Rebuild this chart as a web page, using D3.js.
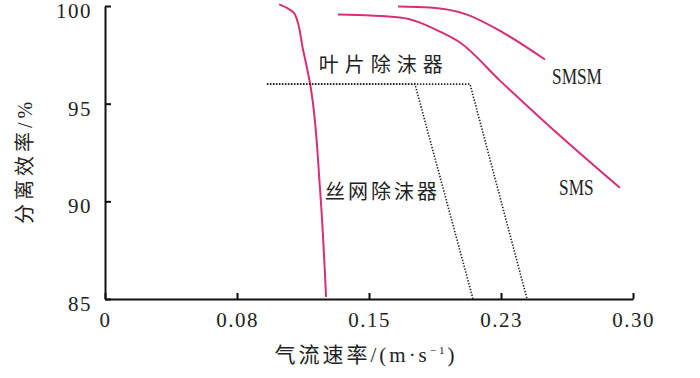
<!DOCTYPE html>
<html>
<head>
<meta charset="utf-8">
<script src="https://cdn.jsdelivr.net/npm/d3@7"></script>
<style>
  body { margin: 0; background: #fff; }
  svg { display: block; }
  text { font-family: "Liberation Serif", "Noto Sans CJK SC", serif; fill: #222; }
</style>
</head>
<body>
<svg width="700" height="378"></svg>
<script>
// x ticks sit at quarter steps, labels are rounded as in the original figure
const xTicks = [0, 0.075, 0.15, 0.225, 0.30];
const xTickLabels = ["0", "0.08", "0.15", "0.23", "0.30"];
const yTicks = [85, 90, 95, 100];

// magenta curves: [airspeed, efficiency]
const wireSolid = [[0.0989, 100.08], [0.1040, 99.87], [0.1080, 99.56], [0.1125, 97.77], [0.1165, 96.03], [0.1222, 90.59], [0.1256, 85.1]];
const smsCurve = [[0.1324, 99.56], [0.1676, 99.41], [0.1903, 98.69], [0.2017, 98.13], [0.2244, 96.18], [0.2528, 93.82], [0.2926, 90.69]];
const smsmCurve = [[0.1665, 99.97], [0.1847, 99.92], [0.2057, 99.56], [0.2261, 98.64], [0.25, 97.26]];

// dotted envelopes (丝网除沫器)
const meshInner = [[0.092, 96.0], [0.1761, 96.0], [0.2091, 85.0]];
const meshOuter = [[0.092, 96.0], [0.2074, 96.0], [0.2398, 85.0]];

const curveLabels = [
  {text: "SMSM", x: 0.254, y: 96.0},
  {text: "SMS", x: 0.258, y: 90.3}
];

const margin = {top: 6, right: 67, bottom: 79, left: 105},
      width = 700 - margin.left - margin.right,
      height = 378 - margin.top - margin.bottom;

const svg = d3.select("svg")
  .append("g")
    .attr("transform", `translate(${margin.left},${margin.top})`);

const x = d3.scaleLinear().domain([0, 0.30]).range([0, width]);
const y = d3.scaleLinear().domain([85, 100]).range([height, 0]);

// axes with inward ticks
const xAxis = svg.append("g")
  .attr("transform", `translate(0,${height})`)
  .call(d3.axisBottom(x).tickValues(xTicks).tickSizeInner(-6).tickSizeOuter(0)
    .tickPadding(13).tickFormat((d, i) => xTickLabels[i]));
const yAxis = svg.append("g")
  .call(d3.axisLeft(y).tickValues(yTicks).tickSizeInner(-6).tickSizeOuter(0)
    .tickPadding(13));

[xAxis, yAxis].forEach(a => {
  a.select(".domain").attr("stroke", "#111").attr("stroke-width", 2);
  a.selectAll(".tick line").attr("stroke", "#111").attr("stroke-width", 2);
  a.selectAll(".tick text")
    .style("font-size", "21px")
    .style("letter-spacing", "1.5px")
    .attr("fill", "#222");
});
yAxis.selectAll(".tick text").attr("dy", "0.55em");

const line = d3.line().x(d => x(d[0])).y(d => y(d[1]));

// solid magenta curves
const curves = [
  [wireSolid, d3.curveMonotoneY],
  [smsCurve, d3.curveMonotoneX],
  [smsmCurve, d3.curveMonotoneX]
];
curves.forEach(([pts, c]) => {
  svg.append("path")
    .datum(pts)
    .attr("fill", "none")
    .attr("stroke", "#d62f78")
    .attr("stroke-width", 2)
    .attr("d", line.curve(c));
});

// dotted lines
[meshInner, meshOuter].forEach(pts => {
  svg.append("path")
    .datum(pts)
    .attr("fill", "none")
    .attr("stroke", "#222")
    .attr("stroke-width", 1.6)
    .attr("stroke-dasharray", "1.4,1.6")
    .attr("d", line.curve(d3.curveLinear));
});

// curve labels (condensed serif look)
curveLabels.forEach(l => {
  svg.append("text")
    .attr("transform", `translate(${x(l.x)},${y(l.y)}) scale(0.72,1)`)
    .style("font-size", "24px")
    .text(l.text);
});

// Chinese annotations
svg.append("text")
  .attr("x", x(0.1215)).attr("y", y(96.6))
  .style("font-size", "20px")
  .style("letter-spacing", "6px")
  .text("叶片除沫器");
svg.append("text")
  .attr("x", x(0.125)).attr("y", y(90.1))
  .style("font-size", "20px")
  .style("letter-spacing", "3px")
  .text("丝网除沫器");

// axis titles
svg.append("text")
  .attr("text-anchor", "middle")
  .attr("x", 366 - margin.left)
  .attr("y", height + 63)
  .style("font-size", "21px")
  .style("letter-spacing", "3px")
  .html("气流速率/(m·s<tspan dy='-8' font-size='11'>−1</tspan><tspan dy='8'>)</tspan>");

svg.append("text")
  .attr("text-anchor", "middle")
  .attr("transform", `translate(${32 - margin.left},${161 - margin.top}) rotate(-90)`)
  .style("font-size", "20px")
  .style("letter-spacing", "4px")
  .text("分离效率/%");
</script>
</body>
</html>
